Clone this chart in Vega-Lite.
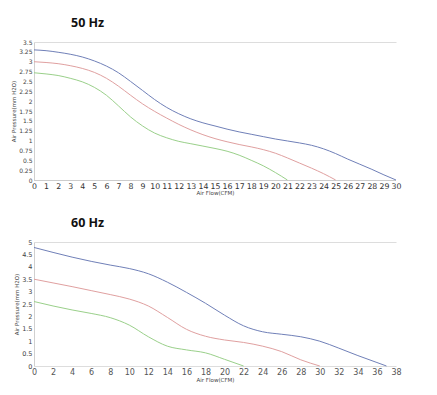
{
  "$schema": "https://vega.github.io/schema/vega-lite/v6.json",
  "background": "white",
  "padding": {"left": 11, "top": 16, "right": 5, "bottom": 5},
  "spacing": 19,
  "datasets": {
    "hz50": [
      {"s": "high", "flow": 0, "p": 3.3}, {"s": "high", "flow": 1, "p": 3.28}, {"s": "high", "flow": 2, "p": 3.24}, {"s": "high", "flow": 3, "p": 3.19}, {"s": "high", "flow": 4, "p": 3.12}, {"s": "high", "flow": 5, "p": 3.02}, {"s": "high", "flow": 6, "p": 2.89}, {"s": "high", "flow": 7, "p": 2.72}, {"s": "high", "flow": 8, "p": 2.5}, {"s": "high", "flow": 9, "p": 2.27}, {"s": "high", "flow": 10, "p": 2.04}, {"s": "high", "flow": 11, "p": 1.84}, {"s": "high", "flow": 12, "p": 1.68}, {"s": "high", "flow": 13, "p": 1.55}, {"s": "high", "flow": 14, "p": 1.45}, {"s": "high", "flow": 15, "p": 1.37}, {"s": "high", "flow": 16, "p": 1.29}, {"s": "high", "flow": 17, "p": 1.22}, {"s": "high", "flow": 18, "p": 1.16}, {"s": "high", "flow": 19, "p": 1.1}, {"s": "high", "flow": 20, "p": 1.04}, {"s": "high", "flow": 21, "p": 0.99}, {"s": "high", "flow": 22, "p": 0.94}, {"s": "high", "flow": 23, "p": 0.88}, {"s": "high", "flow": 24, "p": 0.79}, {"s": "high", "flow": 25, "p": 0.67}, {"s": "high", "flow": 26, "p": 0.53}, {"s": "high", "flow": 27, "p": 0.4}, {"s": "high", "flow": 28, "p": 0.27}, {"s": "high", "flow": 29, "p": 0.13}, {"s": "high", "flow": 30, "p": 0},
      {"s": "mid", "flow": 0, "p": 3.0}, {"s": "mid", "flow": 1, "p": 2.98}, {"s": "mid", "flow": 2, "p": 2.95}, {"s": "mid", "flow": 3, "p": 2.9}, {"s": "mid", "flow": 4, "p": 2.83}, {"s": "mid", "flow": 5, "p": 2.73}, {"s": "mid", "flow": 6, "p": 2.58}, {"s": "mid", "flow": 7, "p": 2.38}, {"s": "mid", "flow": 8, "p": 2.15}, {"s": "mid", "flow": 9, "p": 1.93}, {"s": "mid", "flow": 10, "p": 1.74}, {"s": "mid", "flow": 11, "p": 1.57}, {"s": "mid", "flow": 12, "p": 1.41}, {"s": "mid", "flow": 13, "p": 1.27}, {"s": "mid", "flow": 14, "p": 1.15}, {"s": "mid", "flow": 15, "p": 1.05}, {"s": "mid", "flow": 16, "p": 0.97}, {"s": "mid", "flow": 17, "p": 0.9}, {"s": "mid", "flow": 18, "p": 0.84}, {"s": "mid", "flow": 19, "p": 0.77}, {"s": "mid", "flow": 20, "p": 0.68}, {"s": "mid", "flow": 21, "p": 0.56}, {"s": "mid", "flow": 22, "p": 0.43}, {"s": "mid", "flow": 23, "p": 0.3}, {"s": "mid", "flow": 24, "p": 0.16}, {"s": "mid", "flow": 25, "p": 0},
      {"s": "low", "flow": 0, "p": 2.72}, {"s": "low", "flow": 1, "p": 2.69}, {"s": "low", "flow": 2, "p": 2.65}, {"s": "low", "flow": 3, "p": 2.58}, {"s": "low", "flow": 4, "p": 2.49}, {"s": "low", "flow": 5, "p": 2.35}, {"s": "low", "flow": 6, "p": 2.15}, {"s": "low", "flow": 7, "p": 1.88}, {"s": "low", "flow": 8, "p": 1.6}, {"s": "low", "flow": 9, "p": 1.37}, {"s": "low", "flow": 10, "p": 1.19}, {"s": "low", "flow": 11, "p": 1.07}, {"s": "low", "flow": 12, "p": 0.98}, {"s": "low", "flow": 13, "p": 0.92}, {"s": "low", "flow": 14, "p": 0.86}, {"s": "low", "flow": 15, "p": 0.8}, {"s": "low", "flow": 16, "p": 0.73}, {"s": "low", "flow": 17, "p": 0.63}, {"s": "low", "flow": 18, "p": 0.5}, {"s": "low", "flow": 19, "p": 0.36}, {"s": "low", "flow": 20, "p": 0.19}, {"s": "low", "flow": 21, "p": 0}
    ],
    "hz60": [
      {"s": "high", "flow": 0, "p": 4.78}, {"s": "high", "flow": 2, "p": 4.58}, {"s": "high", "flow": 4, "p": 4.39}, {"s": "high", "flow": 6, "p": 4.22}, {"s": "high", "flow": 8, "p": 4.07}, {"s": "high", "flow": 10, "p": 3.93}, {"s": "high", "flow": 12, "p": 3.72}, {"s": "high", "flow": 14, "p": 3.38}, {"s": "high", "flow": 16, "p": 2.97}, {"s": "high", "flow": 18, "p": 2.53}, {"s": "high", "flow": 20, "p": 2.05}, {"s": "high", "flow": 22, "p": 1.62}, {"s": "high", "flow": 24, "p": 1.38}, {"s": "high", "flow": 26, "p": 1.28}, {"s": "high", "flow": 28, "p": 1.18}, {"s": "high", "flow": 30, "p": 1.0}, {"s": "high", "flow": 32, "p": 0.72}, {"s": "high", "flow": 34, "p": 0.42}, {"s": "high", "flow": 36, "p": 0.14}, {"s": "high", "flow": 37, "p": 0},
      {"s": "mid", "flow": 0, "p": 3.5}, {"s": "mid", "flow": 2, "p": 3.35}, {"s": "mid", "flow": 4, "p": 3.2}, {"s": "mid", "flow": 6, "p": 3.04}, {"s": "mid", "flow": 8, "p": 2.88}, {"s": "mid", "flow": 10, "p": 2.7}, {"s": "mid", "flow": 12, "p": 2.42}, {"s": "mid", "flow": 14, "p": 1.96}, {"s": "mid", "flow": 16, "p": 1.48}, {"s": "mid", "flow": 18, "p": 1.2}, {"s": "mid", "flow": 20, "p": 1.05}, {"s": "mid", "flow": 22, "p": 0.95}, {"s": "mid", "flow": 24, "p": 0.8}, {"s": "mid", "flow": 26, "p": 0.58}, {"s": "mid", "flow": 28, "p": 0.25}, {"s": "mid", "flow": 30, "p": 0},
      {"s": "low", "flow": 0, "p": 2.6}, {"s": "low", "flow": 2, "p": 2.42}, {"s": "low", "flow": 4, "p": 2.26}, {"s": "low", "flow": 6, "p": 2.12}, {"s": "low", "flow": 8, "p": 1.95}, {"s": "low", "flow": 10, "p": 1.65}, {"s": "low", "flow": 12, "p": 1.18}, {"s": "low", "flow": 14, "p": 0.8}, {"s": "low", "flow": 16, "p": 0.65}, {"s": "low", "flow": 18, "p": 0.53}, {"s": "low", "flow": 20, "p": 0.27}, {"s": "low", "flow": 22, "p": 0}
    ]
  },
  "config": {
    "view": {"stroke": null},
    "font": "Open Sans",
    "title": {"font": "Open Sans", "fontSize": 12.5, "fontWeight": "bold", "color": "#111", "anchor": "start", "frame": "group", "dx": 37, "offset": 10},
    "axis": {"domainColor": "#d0d0d0", "ticks": false, "labelOverlap": false, "labelFlush": false, "labelFont": "DejaVu Sans", "titleFont": "DejaVu Sans", "titleFontWeight": "normal", "titleFontSize": 5.5, "titleColor": "#444"},
    "line": {"strokeWidth": 1, "interpolate": "monotone"}
  },
  "vconcat": [
    {
      "title": "50 Hz",
      "width": 362,
      "height": 138,
      "data": {"name": "hz50"},
      "mark": "line",
      "encoding": {
        "x": {"field": "flow", "type": "quantitative", "scale": {"domain": [0, 30], "nice": false},
          "axis": {"title": "Air Flow(CFM)", "values": [0,1,2,3,4,5,6,7,8,9,10,11,12,13,14,15,16,17,18,19,20,21,22,23,24,25,26,27,28,29,30], "labelExpr": "'' + datum.value", "grid": false, "labelFontSize": 7.8, "labelColor": "#333", "labelPadding": 2, "titlePadding": 1, "domainDash": [1, 1], "domainColor": "#999"}},
        "y": {"field": "p", "type": "quantitative", "scale": {"domain": [0, 3.5], "nice": false},
          "axis": {"title": "Air Pressure(mm H2O)", "values": [0,0.25,0.5,0.75,1,1.25,1.5,1.75,2,2.25,2.5,2.75,3,3.25,3.5], "labelExpr": "'' + datum.value", "labelFontSize": 6, "labelColor": "#444", "labelPadding": 2, "titlePadding": 2,
            "grid": true, "gridColor": "#dddddd", "gridOpacity": {"condition": {"test": "datum.value === 3.5", "value": 1}, "value": 0}}},
        "color": {"field": "s", "type": "nominal", "legend": null,
          "scale": {"domain": ["high", "mid", "low"], "range": ["#7080b8", "#e0a0a0", "#9ad08a"]}}
      }
    },
    {
      "title": "60 Hz",
      "width": 362,
      "height": 124,
      "data": {"name": "hz60"},
      "mark": "line",
      "encoding": {
        "x": {"field": "flow", "type": "quantitative", "scale": {"domain": [0, 38], "nice": false},
          "axis": {"title": "Air Flow(CFM)", "values": [0,2,4,6,8,10,12,14,16,18,20,22,24,26,28,30,32,34,36,38], "labelExpr": "'' + datum.value", "grid": false, "labelFontSize": 8, "labelColor": "#555", "labelPadding": 2, "titlePadding": 1, "domainColor": "#dddddd"}},
        "y": {"field": "p", "type": "quantitative", "scale": {"domain": [0, 5], "nice": false},
          "axis": {"title": "Air Pressure(mm H2O)", "values": [0,0.5,1,1.5,2,2.5,3,3.5,4,4.5,5], "labelExpr": "'' + datum.value", "labelFontSize": 6.5, "labelColor": "#444", "labelPadding": 2, "titlePadding": 2,
            "grid": true, "gridColor": "#dddddd", "gridOpacity": {"condition": {"test": "datum.value === 5", "value": 1}, "value": 0}}},
        "color": {"field": "s", "type": "nominal", "legend": null,
          "scale": {"domain": ["high", "mid", "low"], "range": ["#7080b8", "#e0a0a0", "#9ad08a"]}}
      }
    }
  ]
}
